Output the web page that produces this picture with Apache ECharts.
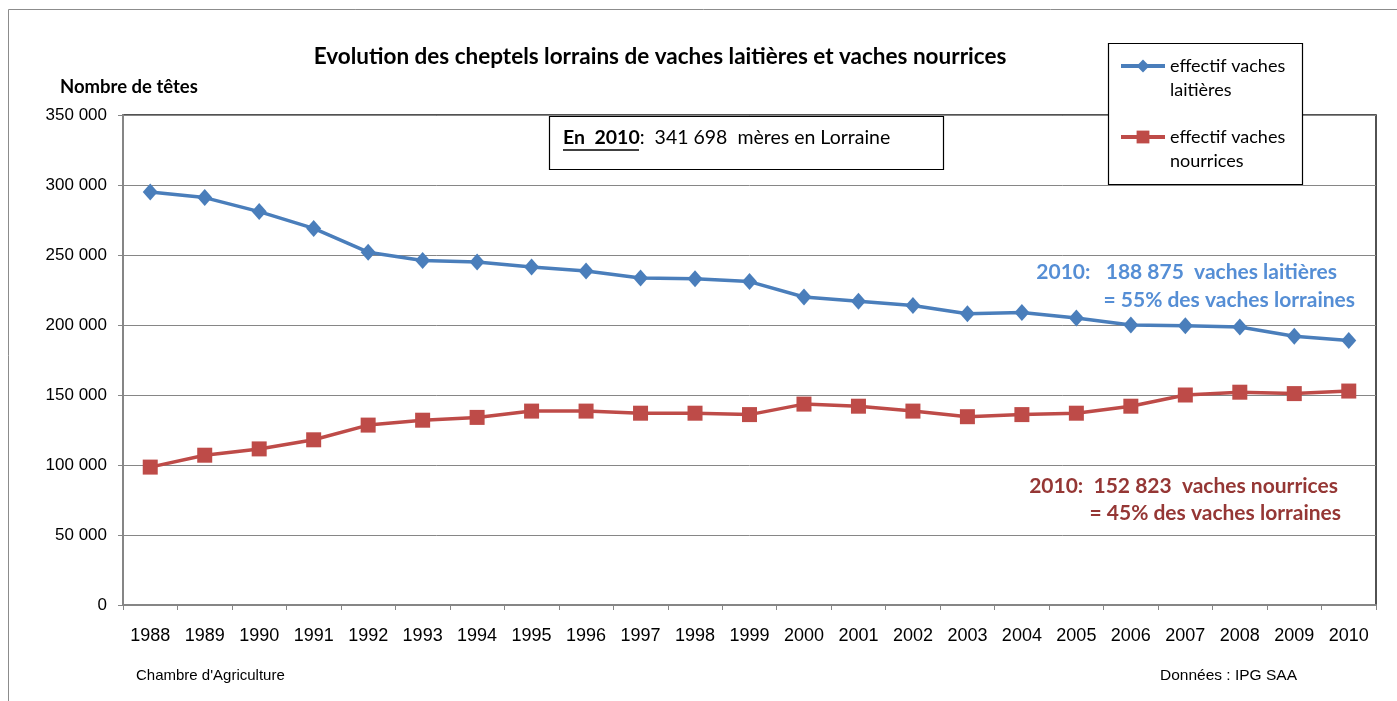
<!DOCTYPE html>
<html>
<head>
<meta charset="utf-8">
<script src="https://cdn.jsdelivr.net/npm/echarts@6/dist/echarts.min.js"></script>
<style>html,body{margin:0;padding:0;background:#fff}#c{width:1397px;height:701px}</style>
</head>
<body>
<div id="c"></div>
<script>
var years = ['1988','1989','1990','1991','1992','1993','1994','1995','1996','1997','1998','1999','2000','2001','2002','2003','2004','2005','2006','2007','2008','2009','2010'];
var laitieres = [295000,291000,281000,269000,252000,246000,245000,241500,238500,233500,233000,231000,220000,217000,214000,208000,209000,205000,200000,199500,198500,192000,188875];
var nourrices = [98500,107000,111500,118000,128500,132000,134000,138500,138500,137000,137000,136000,143500,142000,138500,134500,136000,137000,142000,150000,152000,151000,152823];
var yTicks = [0,50000,100000,150000,200000,250000,300000,350000];
var seriesNames = ['effectif vaches laitières','effectif vaches nourrices'];

var NARROW = '"Liberation Sans Narrow", "Arial Narrow", "Liberation Sans", sans-serif';
var CAL = 'Lato, "Open Sans", sans-serif';
var chart = echarts.init(document.getElementById('c'));
function fmt(v){ if(v===0) return '0'; var s=String(v); return s.slice(0,s.length-3)+' '+s.slice(s.length-3); }
chart.setOption({
  animation:false,
  backgroundColor:'#fff',
  title:{ text:'Evolution des cheptels lorrains de vaches laitières et vaches nourrices', left:655, textAlign:'center', top:40,
    textStyle:{ fontFamily:CAL, fontWeight:'bold', fontSize:22.5, color:'#000' } },
  grid:{ left:123, right:21, top:115, bottom:96, show:true, borderColor:'#1a1a1a', borderWidth:1.5, backgroundColor:'transparent' },
  legend:{ orient:'vertical', left:1119, top:30, padding:0, itemGap:-1, itemWidth:44, itemHeight:16,
    data:seriesNames,
    lineStyle:{ width:4 },
    formatter:function(n){ return n==='effectif vaches laitières' ? '\neffectif vaches\nlaitières' : '\neffectif vaches\nnourrices'; },
    textStyle:{ fontFamily:CAL, fontSize:18, color:'#000', lineHeight:24 } },
  xAxis:{ type:'category', data:years, boundaryGap:true,
    axisLine:{ lineStyle:{ color:'#868686', width:2 } },
    axisTick:{ show:true, length:5, interval:0, lineStyle:{ color:'#868686' } },
    axisLabel:{ interval:0, margin:22, fontFamily:NARROW, fontSize:18, color:'#000' } },
  yAxis:{ type:'value', min:0, max:350000, interval:50000,
    axisLine:{ show:true, lineStyle:{ color:'#868686', width:2 } },
    axisTick:{ show:true, length:5, lineStyle:{ color:'#868686' } },
    splitLine:{ lineStyle:{ color:'#868686', width:1 } },
    axisLabel:{ margin:16, fontFamily:NARROW, fontSize:17, color:'#000', formatter:fmt } },
  series:[
    { name:seriesNames[0], type:'line', data:laitieres, symbol:'diamond', symbolSize:[15,17],
      lineStyle:{ color:'#4A7EBB', width:3.5 }, itemStyle:{ color:'#4A7EBB' }, z:3 },
    { name:seriesNames[1], type:'line', data:nourrices, symbol:'rect', symbolSize:15,
      lineStyle:{ color:'#BE4B48', width:3.5 }, itemStyle:{ color:'#BE4B48' }, z:2 }
  ],
  graphic:[
    { type:'rect', shape:{ x:8.5, y:9.5, width:1400, height:700 }, style:{ fill:'none', stroke:'#8c8c8c', lineWidth:1 }, z:-10, silent:true },
    { type:'rect', shape:{ x:1108.5, y:43.5, width:194, height:141 }, style:{ fill:'#fff', stroke:'#000', lineWidth:1.2 }, z:3 },
    { type:'rect', shape:{ x:549.5, y:116.5, width:394, height:53 }, style:{ fill:'#fff', stroke:'#000', lineWidth:1.2 }, z:3 },
    { type:'text', x:563, y:138, z:4, style:{ text:'{b|En  2010}{n|:  341 698  mères en Lorraine}', verticalAlign:'middle',
        rich:{ b:{ fontFamily:CAL, fontWeight:'bold', fontSize:19.5, fill:'#000' }, n:{ fontFamily:CAL, fontSize:19.5, fill:'#000' } } } },
    { type:'line', shape:{ x1:563, y1:150, x2:639, y2:150 }, style:{ stroke:'#000', lineWidth:1.5 }, z:4 },
    { type:'text', x:60, y:87, style:{ text:'Nombre de têtes', verticalAlign:'middle', font:'bold 18.5px '+CAL, fill:'#000' } },
    { type:'text', x:1337, y:272, z:4, style:{ text:'2010:   188 875  vaches laitières', align:'right', verticalAlign:'middle', font:'bold 21px '+CAL, fill:'#558ED5' } },
    { type:'text', x:1355, y:300, z:4, style:{ text:'= 55% des vaches lorraines', align:'right', verticalAlign:'middle', font:'bold 21px '+CAL, fill:'#558ED5' } },
    { type:'text', x:1338, y:486, z:4, style:{ text:'2010:  152 823  vaches nourrices', align:'right', verticalAlign:'middle', font:'bold 21px '+CAL, fill:'#953735' } },
    { type:'text', x:1341, y:513, z:4, style:{ text:'= 45% des vaches lorraines', align:'right', verticalAlign:'middle', font:'bold 21px '+CAL, fill:'#953735' } },
    { type:'text', x:136, y:676, style:{ text:"Chambre d'Agriculture", verticalAlign:'middle', font:'15px '+NARROW, fill:'#000' } },
    { type:'text', x:1160, y:676, style:{ text:'Données : IPG SAA', verticalAlign:'middle', font:'15.5px '+NARROW, fill:'#000' } }
  ]
});
</script>
</body>
</html>
